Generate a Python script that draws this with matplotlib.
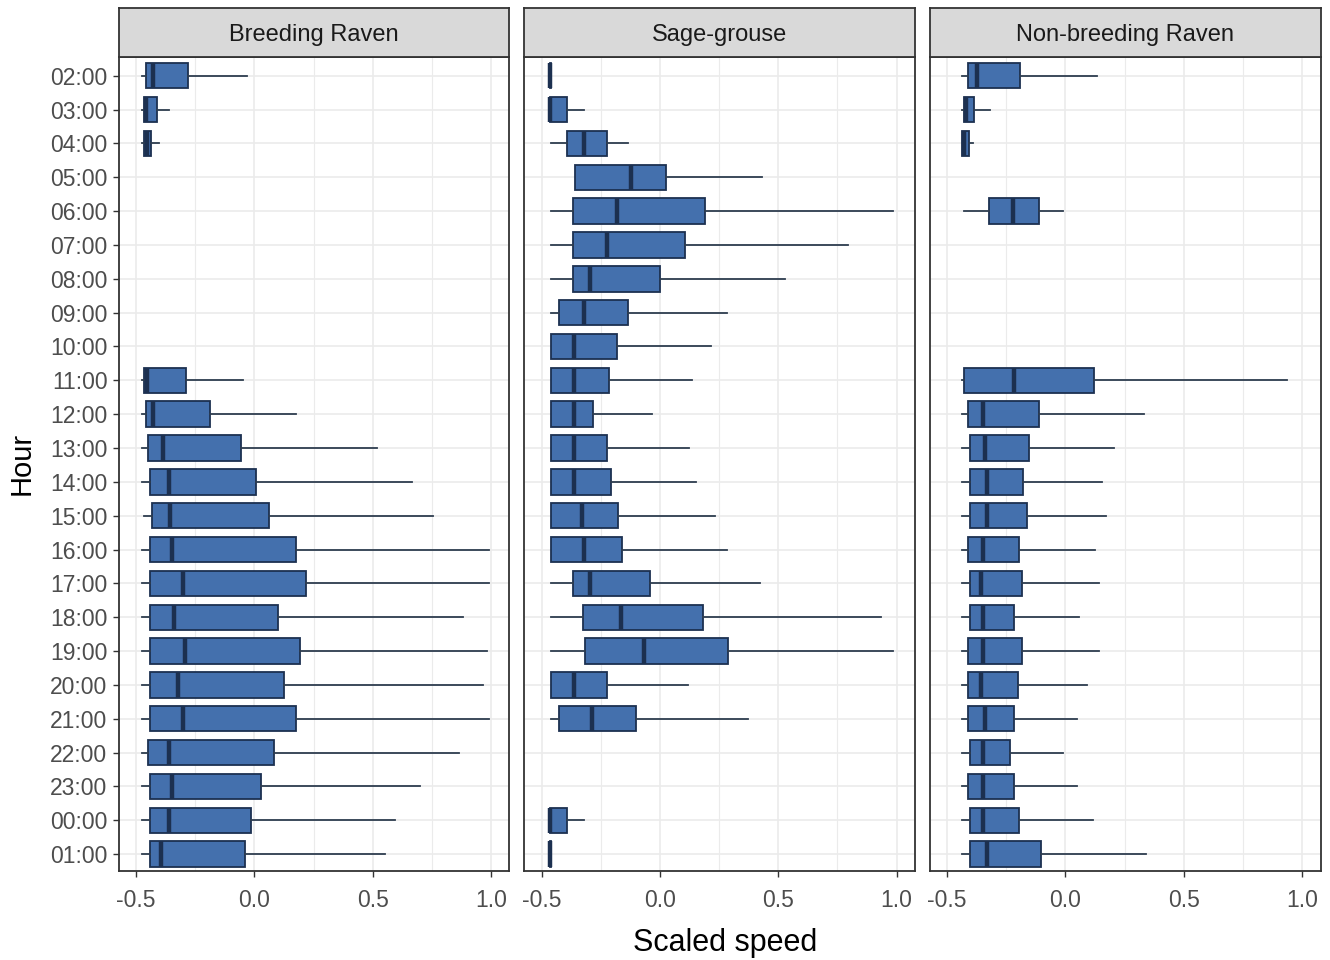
import matplotlib
matplotlib.use('Agg')
import matplotlib.pyplot as plt

plt.rcParams['font.family'] = ['Liberation Sans', 'DejaVu Sans']

# Часы (сверху вниз)
hours = ['02:00', '03:00', '04:00', '05:00', '06:00', '07:00', '08:00', '09:00',
         '10:00', '11:00', '12:00', '13:00', '14:00', '15:00', '16:00', '17:00',
         '18:00', '19:00', '20:00', '21:00', '22:00', '23:00', '00:00', '01:00']

panels = ['Breeding Raven', 'Sage-grouse', 'Non-breeding Raven']

# (нижний ус, Q1, медиана, Q3, верхний ус); None - нет данных
breeding = [
    (-0.476, -0.457, -0.429, -0.279, -0.030),
    (-0.476, -0.466, -0.457, -0.412, -0.360),
    (-0.476, -0.466, -0.452, -0.436, -0.402),
    None, None, None, None, None, None,
    (-0.476, -0.466, -0.454, -0.289, -0.047),
    (-0.476, -0.457, -0.429, -0.188, 0.178),
    (-0.476, -0.449, -0.387, -0.056, 0.518),
    (-0.476, -0.440, -0.362, 0.009, 0.667),
    (-0.467, -0.433, -0.355, 0.060, 0.756),
    (-0.476, -0.440, -0.347, 0.176, 0.990),
    (-0.476, -0.440, -0.303, 0.218, 0.990),
    (-0.476, -0.440, -0.339, 0.102, 0.883),
    (-0.476, -0.440, -0.294, 0.193, 0.983),
    (-0.476, -0.440, -0.322, 0.127, 0.966),
    (-0.476, -0.440, -0.303, 0.176, 0.990),
    (-0.476, -0.449, -0.362, 0.085, 0.866),
    (-0.476, -0.440, -0.347, 0.027, 0.700),
    (-0.476, -0.440, -0.362, -0.015, 0.594),
    (-0.476, -0.440, -0.395, -0.039, 0.551),
]

sage = [
    (-0.466, -0.466, -0.464, -0.462, -0.462),
    (-0.466, -0.466, -0.464, -0.391, -0.322),
    (-0.461, -0.393, -0.321, -0.224, -0.133),
    (-0.360, -0.360, -0.121, 0.024, 0.431),
    (-0.461, -0.368, -0.182, 0.190, 0.986),
    (-0.461, -0.368, -0.222, 0.107, 0.795),
    (-0.461, -0.368, -0.297, -0.001, 0.530),
    (-0.461, -0.427, -0.321, -0.133, 0.282),
    (-0.461, -0.461, -0.363, -0.183, 0.216),
    (-0.461, -0.461, -0.363, -0.215, 0.134),
    (-0.461, -0.461, -0.363, -0.281, -0.032),
    (-0.461, -0.461, -0.363, -0.224, 0.125),
    (-0.461, -0.461, -0.363, -0.207, 0.151),
    (-0.461, -0.461, -0.329, -0.175, 0.233),
    (-0.461, -0.461, -0.321, -0.158, 0.282),
    (-0.461, -0.368, -0.295, -0.042, 0.422),
    (-0.461, -0.326, -0.164, 0.181, 0.935),
    (-0.461, -0.318, -0.065, 0.289, 0.986),
    (-0.461, -0.461, -0.363, -0.224, 0.117),
    (-0.461, -0.427, -0.287, -0.099, 0.373),
    None, None,
    (-0.466, -0.466, -0.464, -0.391, -0.322),
    (-0.466, -0.466, -0.464, -0.462, -0.462),
]

nonbreeding = [
    (-0.438, -0.411, -0.375, -0.192, 0.132),
    (-0.438, -0.428, -0.420, -0.385, -0.317),
    (-0.437, -0.437, -0.428, -0.409, -0.392),
    None,
    (-0.428, -0.322, -0.223, -0.111, -0.010),
    None, None, None, None,
    (-0.437, -0.428, -0.215, 0.122, 0.936),
    (-0.437, -0.411, -0.350, -0.111, 0.332),
    (-0.437, -0.403, -0.341, -0.153, 0.207),
    (-0.437, -0.403, -0.333, -0.177, 0.156),
    (-0.437, -0.403, -0.333, -0.160, 0.173),
    (-0.437, -0.411, -0.350, -0.194, 0.124),
    (-0.437, -0.403, -0.358, -0.185, 0.141),
    (-0.437, -0.403, -0.350, -0.218, 0.058),
    (-0.437, -0.411, -0.350, -0.185, 0.141),
    (-0.437, -0.411, -0.358, -0.202, 0.091),
    (-0.437, -0.411, -0.341, -0.218, 0.049),
    (-0.437, -0.403, -0.350, -0.234, -0.010),
    (-0.437, -0.411, -0.350, -0.218, 0.049),
    (-0.437, -0.403, -0.350, -0.194, 0.115),
    (-0.437, -0.403, -0.333, -0.102, 0.339),
]

x_ticks = [-0.5, 0.0, 0.5, 1.0]
x_ticklabels = ['-0.5', '0.0', '0.5', '1.0']

fill = '#4470ad'
edge = '#1c3050'
grid = '#ebebeb'
W, H = 1330, 960

fig = plt.figure(figsize=(13.3, 9.6), dpi=100)

lefts = [118.5, 524, 929.5]
pw = 391
top, bottom = 56.5, 871
strip_top = 8

for i, (name, data) in enumerate(zip(panels, [breeding, sage, nonbreeding])):
    ax = fig.add_axes([lefts[i] / W, 1 - bottom / H, pw / W, (bottom - top) / H])
    stats, pos = [], []
    for k, s in enumerate(data):
        if s is None:
            continue
        stats.append(dict(whislo=s[0], q1=s[1], med=s[2], q3=s[3], whishi=s[4], fliers=[]))
        pos.append(k)
    ax.bxp(stats, positions=pos, orientation='horizontal', widths=0.75, patch_artist=True,
           showcaps=False, showfliers=False,
           boxprops=dict(facecolor=fill, edgecolor=edge, linewidth=1.3),
           medianprops=dict(color=edge, linewidth=3.2, solid_capstyle='butt'),
           whiskerprops=dict(color='#2e3d4f', linewidth=1.3))
    ax.set_xlim(-0.574, 1.078)
    ax.set_ylim(23.5, -0.57)
    ax.set_xticks(x_ticks)
    ax.set_xticks([-0.25, 0.25, 0.75], minor=True)
    ax.set_xticklabels(x_ticklabels)
    ax.set_yticks(range(len(hours)))
    ax.set_axisbelow(True)
    ax.grid(True, which='major', color=grid, linewidth=1.2)
    ax.grid(True, which='minor', axis='x', color=grid, linewidth=0.8)
    ax.tick_params(which='minor', length=0)
    ax.tick_params(which='major', length=4, width=1.0, color='#333333',
                   labelcolor='#4d4d4d', labelsize=16.5, pad=4)
    ax.tick_params(axis='x', pad=9)
    if i == 0:
        ax.set_yticklabels(hours)
    else:
        ax.set_yticklabels([])
        ax.tick_params(axis='y', length=0)
    for sp in ax.spines.values():
        sp.set_color('#333333')
        sp.set_linewidth(1.3)

    # полоса с названием панели
    sax = fig.add_axes([lefts[i] / W, 1 - top / H, pw / W, (top - strip_top) / H])
    sax.set_xticks([])
    sax.set_yticks([])
    sax.set_facecolor('#d9d9d9')
    for sp in sax.spines.values():
        sp.set_color('#333333')
        sp.set_linewidth(1.3)
    sax.text(0.5, 0.44, name, ha='center', va='center', fontsize=17, color='#1a1a1a',
             transform=sax.transAxes)

fig.text(725 / W, 1 - 943 / H, 'Scaled speed', ha='center', va='center', fontsize=22)
fig.text(22 / W, 1 - 463 / H, 'Hour', ha='center', va='center', rotation=90, fontsize=21)

fig.savefig('out.png', dpi=100)
